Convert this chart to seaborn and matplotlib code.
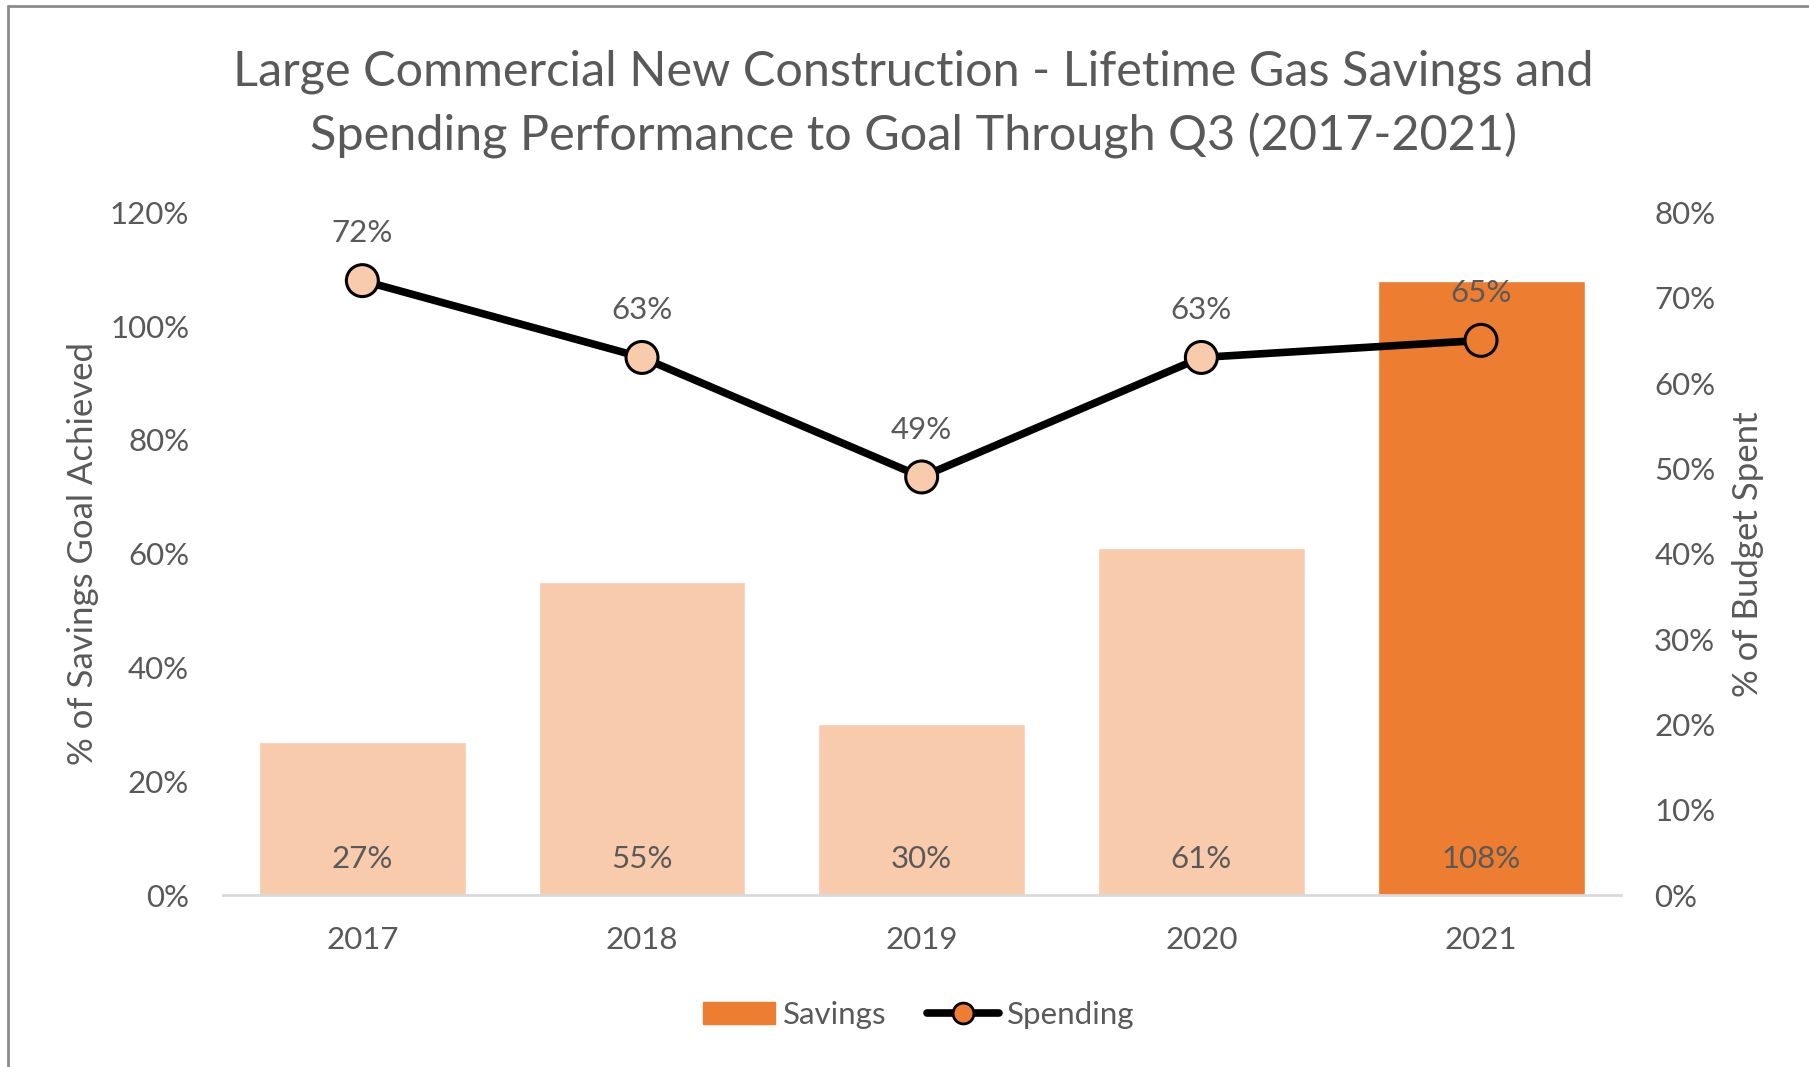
import matplotlib
matplotlib.use("Agg")
import matplotlib.pyplot as plt
import seaborn as sns
import numpy as np
import pandas as pd
from matplotlib.patches import Patch
from matplotlib.lines import Line2D
from matplotlib.ticker import PercentFormatter

# values
years = ["2017", "2018", "2019", "2020", "2021"]
savings = [27, 55, 30, 61, 108]      # % of savings goal achieved
spending = [72, 63, 49, 63, 65]      # % of budget spent

orange = "#ED7D31"
peach = "#F8CBAD"
text_gray = "#595959"
bar_colors = [peach, peach, peach, peach, orange]
marker_colors = [peach, peach, peach, peach, orange]

sns.set_theme(style="white")
plt.rcParams["font.family"] = ["Lato", "DejaVu Sans"]

df = pd.DataFrame({"year": years, "savings": savings})

fig = plt.figure(figsize=(18.09, 10.67), dpi=100)
ax = fig.add_axes([0.123, 0.161, 0.773, 0.640])

sns.barplot(data=df, x="year", y="savings", hue="year", palette=bar_colors,
            width=0.74, saturation=1, legend=False, ax=ax)
ax.set_ylim(0, 120)
ax.set_xlim(-0.5, 4.5)
ax.yaxis.set_major_formatter(PercentFormatter(decimals=0))
ax.set_yticks(np.arange(0, 121, 20))
ax.set_xlabel("")
ax.set_ylabel("% of Savings Goal Achieved", fontsize=25, color=text_gray, labelpad=8)
ax.tick_params(axis="both", length=0, labelsize=22.5, labelcolor=text_gray)
ax.tick_params(axis="y", pad=24)
ax.tick_params(axis="x", pad=22)
for s in ["top", "left", "right"]:
    ax.spines[s].set_visible(False)
ax.spines["bottom"].set_color("#D9D9D9")
ax.spines["bottom"].set_linewidth(2)

# bar labels near the base
for i, v in enumerate(savings):
    ax.annotate(f"{v}%", (i, 0), xytext=(0, 26), textcoords="offset points",
                ha="center", va="center", fontsize=22.5, color=text_gray)

ax2 = ax.twinx()
xpos = np.arange(len(years))
ax2.plot(xpos, spending, color="black", lw=5.5, zorder=2)
ax2.scatter(xpos, spending, s=23**2, c=marker_colors, edgecolors="black",
            linewidths=2.2, zorder=3)
ax2.set_ylim(0, 80)
ax2.set_yticks(np.arange(0, 81, 10))
ax2.yaxis.set_major_formatter(PercentFormatter(decimals=0))
ax2.set_ylabel("% of Budget Spent", fontsize=25, color=text_gray, labelpad=12)
ax2.tick_params(axis="y", length=0, labelsize=22.5, labelcolor=text_gray, pad=24)
for s in ["top", "left", "right", "bottom"]:
    ax2.spines[s].set_visible(False)

for i, v in enumerate(spending):
    ax2.annotate(f"{v}%", (i, v), xytext=(0, 34), textcoords="offset points",
                 ha="center", va="center", fontsize=22.5, color=text_gray)

fig.suptitle("Large Commercial New Construction - Lifetime Gas Savings and\n"
             "Spending Performance to Goal Through Q3 (2017-2021)",
             x=0.505, y=0.902, va="center", fontsize=35, color=text_gray, linespacing=1.5)

handles = [Patch(facecolor=orange, edgecolor=orange),
           Line2D([0], [0], color="black", lw=5.5, marker="o", markersize=15,
                  markerfacecolor=orange, markeredgecolor="black", markeredgewidth=2)]
fig.legend(handles, ["Savings", "Spending"], loc="center", bbox_to_anchor=(0.508, 0.049),
           ncol=2, frameon=False, fontsize=22.5, labelcolor=text_gray,
           handlelength=2.3, handletextpad=0.25, columnspacing=1.3)

# gray border on top and left only, as in the screenshot
fig.add_artist(Line2D([0.0045, 1.0], [0.9945, 0.9945], transform=fig.transFigure,
                      color="#8C8C8C", lw=2))
fig.add_artist(Line2D([0.0045, 0.0045], [0.0, 0.9945], transform=fig.transFigure,
                      color="#8C8C8C", lw=2))

fig.savefig("out.png", dpi=100)
